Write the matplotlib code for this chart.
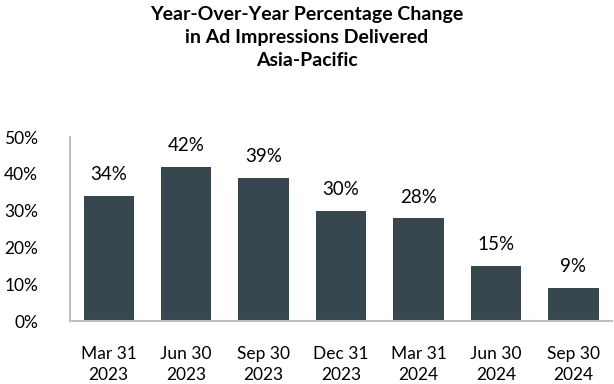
import matplotlib
matplotlib.use("Agg")
import matplotlib.pyplot as plt
from matplotlib.ticker import PercentFormatter

quarters = ["Mar 31\n2023", "Jun 30\n2023", "Sep 30\n2023", "Dec 31\n2023",
            "Mar 31\n2024", "Jun 30\n2024", "Sep 30\n2024"]
yoy_change = [34, 42, 39, 30, 28, 15, 9]
y_ticks = [0, 10, 20, 30, 40, 50]

plt.rcParams["font.family"] = ["Lato", "DejaVu Sans"]

fig = plt.figure(figsize=(6.14, 3.84), dpi=100)
ax = fig.add_axes([0.114, 0.164, 0.883, 0.479])

x = range(len(quarters))
bars = ax.bar(x, yoy_change, width=0.65, color="#36474f")
for b, v in zip(bars, yoy_change):
    ax.annotate(f"{v}%", (b.get_x() + b.get_width() / 2, v), xytext=(0, 9),
                textcoords="offset points", ha="center", va="bottom", fontsize=13.5)

ax.set_ylim(0, 50)
ax.set_xlim(-0.5, len(quarters) - 0.5)
ax.set_yticks(y_ticks)
ax.yaxis.set_major_formatter(PercentFormatter(decimals=0))
ax.set_xticks(list(x))
ax.set_xticklabels(quarters, linespacing=1.4)
ax.tick_params(axis="both", length=0, labelsize=12.5)
ax.tick_params(axis="x", pad=18)
ax.tick_params(axis="y", pad=23)

for s in ("top", "right"):
    ax.spines[s].set_visible(False)
for s in ("left", "bottom"):
    ax.spines[s].set_color("#bfbfbf")
    ax.spines[s].set_linewidth(1.5)

fig.text(0.5, 0.985, "Year-Over-Year Percentage Change\nin Ad Impressions Delivered\nAsia-Pacific",
         ha="center", va="top", fontsize=14, fontweight="bold", linespacing=1.45)

fig.savefig("out.png", dpi=100)
